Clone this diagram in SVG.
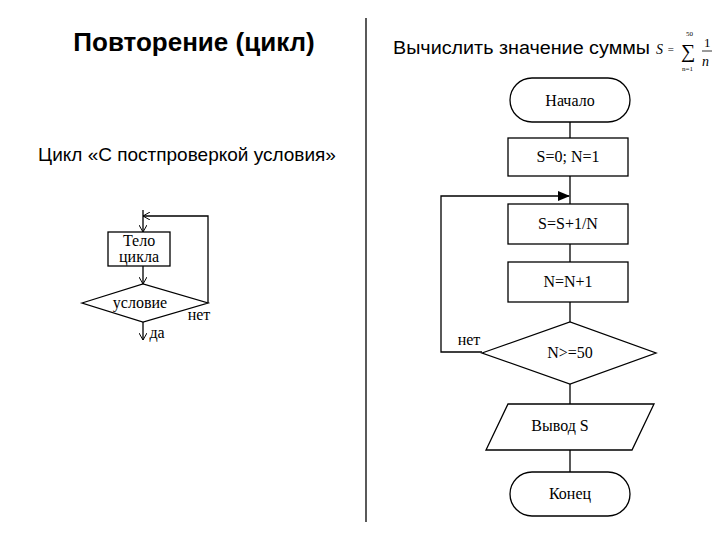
<svg xmlns="http://www.w3.org/2000/svg" width="720" height="540" viewBox="0 0 720 540">
<style>
.s{fill:#fff;stroke:#000;stroke-width:1.3}
.l{fill:none;stroke:#000;stroke-width:1.3}
.t{font-family:"Liberation Serif",serif;font-size:16px;text-anchor:middle}
.h{font-family:"Liberation Sans",sans-serif}
</style>
<defs>
<marker id="a" markerWidth="12" markerHeight="10" refX="11" refY="5" orient="auto" markerUnits="userSpaceOnUse"><path d="M0,0 L12,5 L0,10 z" fill="#000"/></marker>
<marker id="v" markerWidth="8" markerHeight="8" refX="7" refY="4" orient="auto" markerUnits="userSpaceOnUse"><path d="M0,0 L7,4 L0,8" fill="none" stroke="#000"/></marker>
</defs>
<rect width="720" height="540" fill="#fff"/>
<text x="194" y="51" class="h" font-size="26" font-weight="bold" text-anchor="middle">Повторение (цикл)</text>
<text x="187" y="161" class="h" font-size="19" text-anchor="middle">Цикл «С постпроверкой условия»</text>
<text x="393" y="54" class="h" font-size="18" textLength="257" lengthAdjust="spacingAndGlyphs">Вычислить значение суммы</text>
<g font-family="Liberation Serif,serif" font-style="italic">
<text x="656" y="54" font-size="14">S</text>
<text x="667" y="53" font-size="11">=</text>
<text x="681" y="58" font-size="20" font-style="normal">∑</text>
<text x="686" y="36" font-size="7" font-style="normal">50</text>
<text x="682" y="71" font-size="7" font-style="normal">n=1</text>
<text x="704" y="47" font-size="13" font-style="normal">1</text>
<line x1="702" y1="51" x2="712" y2="51" stroke="#000" stroke-width="0.8"/>
<text x="702" y="66" font-size="14">n</text>
</g>
<line x1="366" y1="18" x2="366" y2="522" stroke="#000" stroke-width="1.3"/>
<g id="connectors">
<path class="l" d="M143,210 V232" marker-end="url(#v)"/>
<path class="l" d="M143,266 V284" marker-end="url(#v)"/>
<path class="l" d="M143,322 V340" marker-end="url(#v)"/>
<path class="l" d="M208,303 V216 H143" marker-end="url(#v)"/>
<path class="l" d="M570,122 V138"/>
<path class="l" d="M570,176 V204"/>
<path class="l" d="M570,244 V262"/>
<path class="l" d="M570,302 V322"/>
<path class="l" d="M570,384 V404"/>
<path class="l" d="M570,450 V472"/>
<path class="l" d="M482,352 H441 V196 H569" marker-end="url(#a)"/>
</g>
<g id="body"><rect class="s" x="108" y="232" width="62" height="34"/><text class="t" x="139" y="246" font-size="14">Тело</text><text class="t" x="139" y="262" font-size="14">цикла</text></g>
<g id="cond"><path class="s" d="M82,303 L143,284 L208,303 L143,322 z"/><text class="t" x="140" y="308">условие</text></g>
<text class="t" x="199" y="320">нет</text>
<text class="t" x="157" y="338">да</text>
<g id="start"><rect class="s" x="510" y="78" width="120" height="44" rx="22"/><text class="t" x="570" y="106">Начало</text></g>
<g id="init"><rect class="s" x="508" y="138" width="120" height="38"/><text class="t" x="568" y="162">S=0; N=1</text></g>
<g id="sum"><rect class="s" x="508" y="204" width="120" height="40"/><text class="t" x="568" y="229">S=S+1/N</text></g>
<g id="inc"><rect class="s" x="508" y="262" width="120" height="40"/><text class="t" x="568" y="287">N=N+1</text></g>
<g id="check"><path class="s" d="M482,353 L570,322 L656,353 L570,384 z"/><text class="t" x="570" y="358">N&gt;=50</text></g>
<text class="t" x="469" y="345">нет</text>
<g id="out"><path class="s" d="M508,404 L654,404 L632,450 L486,450 z"/><text class="t" x="560" y="431">Вывод S</text></g>
<g id="end"><rect class="s" x="510" y="472" width="120" height="44" rx="22"/><text class="t" x="570" y="499">Конец</text></g>
</svg>
